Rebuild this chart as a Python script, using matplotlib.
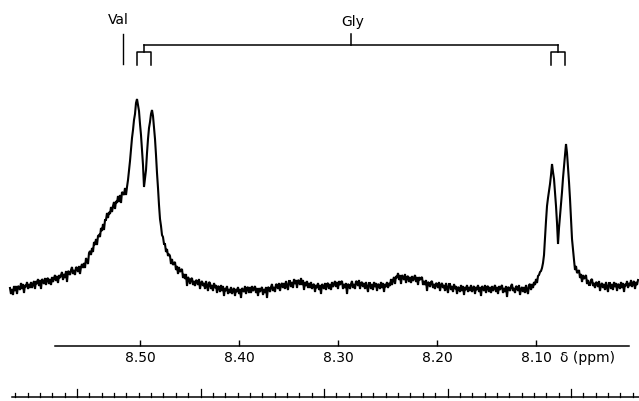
import numpy as np
import matplotlib
matplotlib.use("Agg")
import matplotlib.pyplot as plt

# ---- data ----
# intensity (arbitrary units) sampled every 0.00101 ppm from 8.6313 to 7.9970 ppm
intensity = [
    11, 5, 10, 4, 13, 8, 13, 5, 13, 12, 9, 16, 10, 15, 6, 14, 12, 17, 10, 15,
    11, 17, 11, 15, 18, 10, 18, 15, 20, 13, 19, 10, 20, 18, 15, 21, 14, 20, 21, 15,
    20, 14, 22, 17, 21, 24, 18, 23, 16, 24, 21, 24, 27, 19, 25, 21, 28, 17, 28, 27,
    24, 29, 32, 25, 29, 24, 32, 31, 27, 33, 25, 32, 35, 31, 36, 31, 41, 38, 35, 46,
    48, 44, 51, 47, 57, 54, 60, 54, 63, 64, 62, 71, 68, 75, 69, 79, 79, 86, 81, 87,
    85, 92, 87, 93, 97, 90, 98, 96, 103, 97, 104, 96, 107, 106, 104, 111, 104, 112, 119, 128,
    138, 150, 161, 169, 179, 185, 196, 200, 194, 188, 175, 164, 149, 134, 112, 121, 129, 146, 160, 171,
    177, 185, 189, 183, 172, 160, 144, 126, 111, 94, 80, 73, 64, 62, 55, 55, 47, 50, 43, 45,
    43, 35, 40, 34, 36, 37, 29, 33, 25, 32, 27, 29, 30, 21, 25, 20, 25, 13, 22, 20,
    15, 20, 21, 14, 18, 13, 19, 18, 14, 20, 10, 16, 18, 13, 16, 10, 18, 13, 8, 17,
    16, 10, 14, 8, 16, 11, 14, 6, 13, 12, 7, 14, 8, 13, 3, 11, 8, 13, 5, 10,
    6, 12, 5, 9, 11, 3, 10, 7, 12, 5, 10, 1, 11, 9, 7, 13, 5, 11, 12, 6,
    12, 6, 13, 8, 10, 13, 6, 11, 3, 11, 7, 10, 12, 4, 10, 6, 12, 1, 12, 11,
    7, 12, 15, 8, 12, 7, 15, 14, 10, 16, 8, 14, 16, 11, 16, 10, 18, 13, 9, 18,
    18, 12, 17, 11, 20, 15, 19, 11, 19, 18, 14, 21, 14, 19, 9, 17, 13, 18, 11, 16,
    11, 17, 10, 14, 15, 7, 14, 11, 16, 9, 14, 5, 15, 13, 10, 16, 9, 15, 16, 10,
    15, 9, 17, 12, 15, 18, 12, 17, 10, 18, 14, 17, 18, 10, 15, 11, 16, 5, 15, 14,
    10, 15, 18, 11, 15, 10, 18, 17, 13, 19, 10, 16, 17, 12, 16, 10, 17, 12, 7, 16,
    16, 10, 15, 9, 17, 12, 16, 8, 15, 14, 10, 17, 11, 16, 7, 15, 12, 17, 11, 16,
    13, 20, 14, 19, 22, 15, 23, 21, 26, 19, 24, 15, 24, 22, 19, 25, 16, 22, 23, 17,
    22, 16, 23, 18, 21, 24, 17, 22, 14, 22, 19, 21, 22, 14, 18, 14, 19, 8, 17, 16,
    12, 17, 18, 11, 15, 10, 16, 15, 11, 17, 8, 14, 16, 11, 14, 8, 16, 11, 6, 15,
    15, 9, 13, 7, 15, 10, 13, 5, 12, 11, 7, 14, 8, 13, 4, 12, 9, 14, 7, 12,
    8, 14, 7, 11, 13, 5, 12, 9, 14, 7, 12, 3, 13, 11, 8, 14, 6, 12, 13, 7,
    12, 6, 13, 8, 11, 14, 7, 12, 5, 13, 9, 12, 14, 6, 11, 7, 13, 2, 12, 11,
    8, 13, 15, 8, 11, 6, 13, 12, 8, 14, 4, 10, 12, 7, 12, 6, 14, 9, 5, 14,
    15, 9, 15, 11, 17, 14, 20, 16, 23, 24, 27, 28, 31, 36, 44, 62, 78, 93, 101, 108,
    115, 124, 135, 127, 120, 106, 93, 76, 55, 71, 83, 94, 107, 121, 133, 144, 155, 146, 132, 117,
    100, 80, 60, 49, 39, 29, 33, 26, 27, 29, 21, 25, 17, 24, 20, 22, 24, 15, 19, 14,
    14, 19, 20, 13, 16, 11, 17, 16, 12, 18, 8, 14, 16, 11, 15, 9, 17, 12, 7, 16,
    16, 10, 15, 9, 17, 12, 16, 8, 15, 14, 10, 17, 11, 16, 7, 15, 13, 18, 11, 16,
    13, 19, 12, 16, 18, 10, 17, 14, 19,
]
shift_start, shift_end = 8.6313, 7.9970

ppm_ticks = [8.50, 8.40, 8.30, 8.20, 8.10]
ppm_labels = ["8.50", "8.40", "8.30", "8.20", "8.10"]

val_shift = 8.517
gly_left = [8.503, 8.489]
gly_right = [8.085, 8.0705]

# Hz ruler (400.8 MHz, 5 Hz minor, 50 Hz major)
spec_mhz = 400.8
ruler_start_ppm = 8.626
ruler_n = 51

# ---- figure ----
fig = plt.figure(figsize=(6.39, 4.02), dpi=100)
ax = fig.add_axes([0, 0, 1, 1])
ax.set_xlim(8.6414, 7.9960)
ax.set_ylim(-102, 300)
ax.axis("off")

shift_ppm = np.linspace(shift_start, shift_end, len(intensity))
ax.plot(shift_ppm, intensity, color="black", lw=1.5, solid_joinstyle="miter")

# ppm scale
ax.plot([8.586, 8.006], [-47, -47], color="black", lw=1.1)
ax.vlines(ppm_ticks, -47, -41, color="black", lw=1.0)
for t, lab in zip(ppm_ticks, ppm_labels):
    ax.text(t, -58, lab, ha="center", va="center", fontsize=10, color="black")
ax.text(8.0755, -58, "δ (ppm)", ha="left", va="center", fontsize=10, color="black")

# Hz ruler
ax.plot([8.6293, 7.9960], [-98, -98], color="black", lw=1.1)
step = 5.0 / spec_mhz
for i in range(ruler_n):
    p = ruler_start_ppm - i * step
    if p < 7.996:
        break
    h = 8 if (i - 5) % 10 == 0 else 4
    ax.plot([p, p], [-98, -98 + h], color="black", lw=0.9)

# Val marker
ax.plot([val_shift, val_shift], [235, 265], color="black", lw=1.0)
ax.text(val_shift + 0.0045, 280, "Val", ha="center", va="center", fontsize=10)

# Gly brackets
lw_b = 1.1
for pair in (gly_left, gly_right):
    a, b = pair
    ax.plot([a, a, b, b], [234, 247, 247, 234], color="black", lw=lw_b)
    c = (a + b) / 2
    ax.plot([c, c], [247, 254], color="black", lw=lw_b)
cl = sum(gly_left) / 2
cr = sum(gly_right) / 2
ax.plot([cl, cr], [254, 254], color="black", lw=lw_b)
cm = (cl + cr) / 2
ax.plot([cm, cm], [254, 265], color="black", lw=lw_b)
ax.text(cm - 0.002, 278, "Gly", ha="center", va="center", fontsize=10)

fig.savefig("out.png", dpi=100)
